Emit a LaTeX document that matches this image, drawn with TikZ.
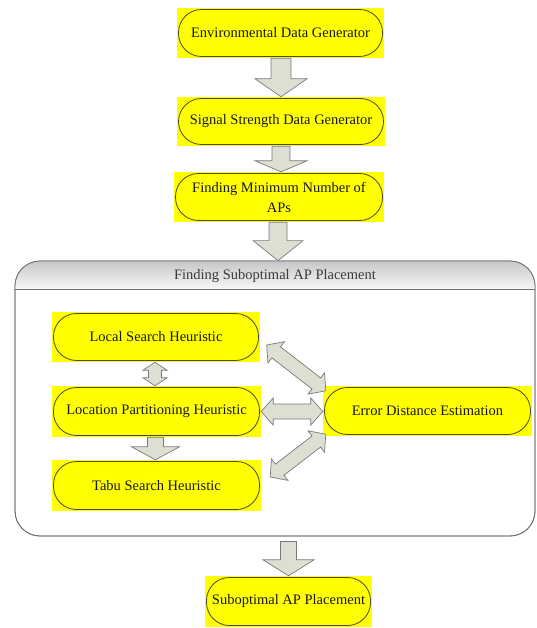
\documentclass[tikz,border=0pt]{standalone}
\usepackage{fontspec}
\setmainfont{Liberation Serif}
\usetikzlibrary{calc}

\definecolor{boxyellow}{HTML}{FFFF00}
\definecolor{stadium}{HTML}{4A4A2A}
\definecolor{arrowfill}{HTML}{DCDFD2}
\definecolor{arrowline}{HTML}{7A7A7A}
\definecolor{framegray}{HTML}{707070}
\definecolor{titlegray}{HTML}{3A3A3A}

\newcommand\boxfont{\fontsize{14.5}{20}\selectfont}

% single block arrow: tail centre, tip, shaft half-width, head half-width, head length
\newcommand\blkarrow[5]{%
  \draw[blockarrow]
    ($(#1)!#3!90:(#2)$) --
    ($(#2)!#5!(#1)!#3!-90:(#1)$) --
    ($(#2)!#5!(#1)!#4!-90:(#1)$) --
    (#2) --
    ($(#2)!#5!(#1)!#4!90:(#1)$) --
    ($(#2)!#5!(#1)!#3!90:(#1)$) --
    ($(#1)!#3!-90:(#2)$) -- cycle;}

% double-headed block arrow: first tip, second tip, shaft half-width, head half-width, head length
\newcommand\blkdblarrow[5]{%
  \draw[blockarrow]
    (#1) --
    ($(#1)!#5!(#2)!#4!90:(#2)$) --
    ($(#1)!#5!(#2)!#3!90:(#2)$) --
    ($(#2)!#5!(#1)!#3!-90:(#1)$) --
    ($(#2)!#5!(#1)!#4!-90:(#1)$) --
    (#2) --
    ($(#2)!#5!(#1)!#4!90:(#1)$) --
    ($(#2)!#5!(#1)!#3!90:(#1)$) --
    ($(#1)!#5!(#2)!#3!-90:(#2)$) --
    ($(#1)!#5!(#2)!#4!-90:(#2)$) -- cycle;}

\tikzset{
  ybox/.style={rectangle, fill=boxyellow, inner sep=0pt, align=center,
    text=black!90, font=\boxfont,
    path picture={\draw[draw=stadium, line width=0.8pt, rounded corners=23pt]
      ([shift={(1.5pt,-1.5pt)}]path picture bounding box.north west) rectangle
      ([shift={(-1.5pt,1.5pt)}]path picture bounding box.south east);}},
  blockarrow/.style={fill=arrowfill, draw=arrowline, line width=0.7pt, line join=miter},
  frame/.style={draw=framegray, line width=0.8pt, rounded corners=25pt},
}

\begin{document}
\begin{tikzpicture}[x=1pt, y=-1pt]
\useasboundingbox (0,0) rectangle (536,628);
\fill[white] (0,0) rectangle (536,628);

% container for the placement stage
\node[frame, fill=white, minimum width=520pt, minimum height=275pt, inner sep=0pt] (frm) at (275,398.5) {};
\begin{scope}
  \clip[rounded corners=25pt] (15,261) rectangle (535,536);
  \shade[top color=black!22, bottom color=black!3] (15,261) rectangle (535,289);
\end{scope}
\draw[frame] (15,536) -- (15,261) -- (535,261) -- (535,536) -- cycle;
\draw[draw=framegray, line width=0.8pt] (15,289) -- (535,289);
\node[font=\boxfont, text=titlegray] (title) at (275,276) {Finding Suboptimal AP Placement};

% upper pipeline
\node[ybox, minimum width=207pt, minimum height=50pt] (env) at (280.5,33) {Environmental Data Generator};
\node[ybox, minimum width=208pt, minimum height=49pt] (sig) at (281,121.5) {Signal Strength Data Generator};
\node[ybox, minimum width=210pt, minimum height=50pt] (minap) at (279,197) {Finding Minimum Number of\\APs};

% heuristics
\node[ybox, minimum width=208pt, minimum height=50pt] (lsh) at (156,337) {Local Search Heuristic};
\node[ybox, minimum width=209pt, minimum height=51pt] (lph) at (156.5,411.5) {Location Partitioning Heuristic};
\node[ybox, minimum width=209pt, minimum height=51pt] (tsh) at (156.5,485.5) {Tabu Search Heuristic};
\node[ybox, minimum width=209pt, minimum height=50pt] (ede) at (427.5,411) {Error Distance Estimation};

% result
\node[ybox, minimum width=167pt, minimum height=51pt] (res) at (288.5,601.5) {Suboptimal AP Placement};

% arrow end points
\coordinate (a1s) at ([xshift=0.5pt]env.south);
\coordinate (a1e) at (a1s |- sig.north);
\coordinate (a2s) at (sig.south);
\coordinate (a2e) at (a2s |- minap.north);
\coordinate (a3s) at ([xshift=-1pt]minap.south);
\coordinate (a3e) at (a3s |- frm.north);
\coordinate (a4s) at ([yshift=-5pt]res.north |- frm.south);
\coordinate (a4e) at (res.north);

\coordinate (v1s) at ([xshift=-1pt]lsh.south);
\coordinate (v1e) at (v1s |- lph.north);
\coordinate (v2s) at ([xshift=-1pt]lph.south);
\coordinate (v2e) at (v2s |- tsh.north);

\coordinate (hs) at (lph.east);
\coordinate (he) at (lph.east -| ede.west);
\coordinate (d1s) at ([shift={(6.5pt,-8pt)}]lsh.east);
\coordinate (d1e) at ([shift={(3pt,-5pt)}]ede.north west);
\coordinate (d2s) at ([shift={(9pt,8.5pt)}]tsh.east);
\coordinate (d2e) at ([shift={(3pt,2pt)}]ede.south west);

% block arrows
\blkarrow{a1s}{a1e}{10pt}{26pt}{18pt}
\blkarrow{a2s}{a2e}{9pt}{26pt}{11pt}
\blkarrow{a3s}{a3e}{9pt}{25pt}{20pt}
\blkarrow{a4s}{a4e}{8pt}{25.5pt}{16pt}
\blkarrow{v2s}{v2e}{8pt}{24pt}{13pt}
\blkdblarrow{v1s}{v1e}{6.5pt}{12pt}{8pt}
\blkdblarrow{hs}{he}{7.5pt}{13.5pt}{12pt}
\blkdblarrow{d1s}{d1e}{7pt}{13.5pt}{12pt}
\blkdblarrow{d2s}{d2e}{7pt}{13.5pt}{12pt}
\end{tikzpicture}
\end{document}
